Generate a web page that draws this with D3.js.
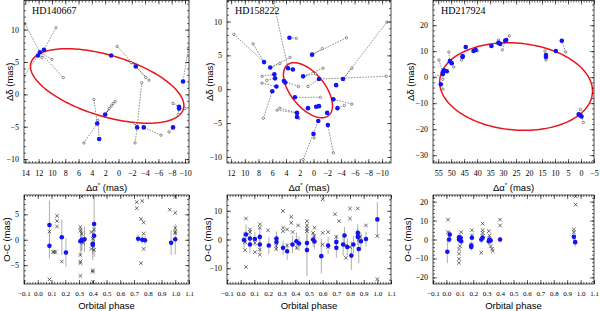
<!DOCTYPE html>
<html>
<head>
<meta charset="utf-8">
<script src="https://cdn.jsdelivr.net/npm/d3@7"></script>
<style>
body { margin: 0; background: #fff; }
</style>
</head>
<body>
<svg id="chart" width="600" height="311"></svg>
<script>

// ---------- data ----------

// orbits: centre (mas), semi-axes (mas), tilt (deg)
var hd140667_orbit = {cx: 1.7, cy: 1.3, a: 12.0, b: 4.7, theta: 17.5};
var hd158222_orbit = {cx: 0.8, cy: -0.15, a: 4.8, b: 2.5, theta: 51.5};
var hd217924_orbit = {cx: 25.0, cy: -3.6, a: 29.5, b: 16.7, theta: 5};

// fitted positions (blue)
var hd140667_dx = [12.1, 11.8, 11.2, 1.1, -2.6, -9.7, -9.1, -9.1, -8.2, -3.8, -2.8, 2.0, 3.2, 2.9];
var hd140667_dy = [6.0, 6.5, 6.9, 6.0, 4.3, 2.0, -1.9, -2.2, -5.1, -5.1, -5.1, -3.1, -4.5, -6.9];
// abscissa ends (open circles) and the blue point they hang from
var hd140667_absX = [14.05, 8.3, 9.4, 14.2, 10.0, 11.5, 0.2, -1.9, -4.6, -4.1, -10.5, -8.2, -9.0, -10.0, -3.5, -2.5, -2.5, -6.4, -7.6, 0.5, 0.8, 1.1, 1.4, 3.7, 5.2, 3.1];
var hd140667_absY = [10.9, 2.6, 10.3, 2.8, 5.4, 5.7, 7.4, 4.9, 2.2, 2.6, 7.1, -1.4, -3.1, -2.2, 1.8, -7.5, -4.5, -6.3, -5.8, -1.1, -1.4, -1.8, -2.2, -0.8, -7.5, -4.0];
var hd140667_absRef = [1, 1, 2, 0, 1, 0, 4, 4, 4, 4, 5, 6, 7, 7, 10, 10, 10, 9, 8, 11, 11, 11, 11, 12, 12, 13];

var hd158222_dx = [3.5, 0.2, 7.2, 6.3, 3.7, 3.0, 5.7, 1.5, 5.6, 4.3, 4.1, -4.3, -0.8, -3.3, 5.4, 6.0, -2.9, 2.7, -0.8, -0.4, 0.8, -3.5, 2.4, 2.4, -2.0, -0.7, -2.1, 0.0];
var hd158222_dy = [7.6, 5.1, 4.0, 3.2, 3.1, 2.9, 2.2, 1.9, 1.6, 1.2, 1.0, 1.5, 1.5, 0.6, 0.4, -0.3, -1.5, -1.2, -2.5, -2.6, -2.8, -2.8, -3.5, -4.1, -3.5, -4.7, -5.3, -6.6];
var hd158222_absX = [11.6, 8.8, 5.8, 2.5, -4.8, -1.3, -10.7, -5.6, -10.6, -5.6, -4.5, -2.9, -0.1, 1.5, 7.3, 4.9, 5.3, 2.1, 7.5, 6.8, 7.5, -1.4, -0.3, 2.2, 0.8, 3.4, 4.9, -1.0];
var hd158222_absY = [8.1, 6.7, 12.8, 7.5, 7.6, 6.0, 9.9, 3.1, 1.9, -2.2, -2.4, -9.4, -7.2, -10.4, -4.3, -2.8, -3.1, -4.3, 1.9, 1.3, 0.9, 3.1, 2.3, 0.4, 0.4, 4.7, 3.8, -1.2];
var hd158222_absRef = [2, 2, 4, 0, 1, 1, 11, 11, 12, 16, 21, 26, 27, 25, 15, 22, 22, 23, 6, 8, 14, 7, 7, 9, 12, 3, 3, 17];

var hd217924_dx = [54.0, 53.2, 52.8, 51.7, 53.2, 50.5, 49.8, 45.6, 45.6, 44.4, 41.4, 40.6, 34.5, 31.8, 31.1, 29.2, 28.8, 13.5, 13.5, 9.7, 7.4, 0.9, 0.2, -0.2];
var hd217924_dy = [-2.7, 1.9, 2.7, 2.3, 1.2, 6.2, 5.4, 7.8, 8.1, 11.6, 10.1, 10.5, 12.0, 13.2, 12.8, 14.0, 14.3, 8.5, 7.8, 10.1, 14.0, -14.3, -14.7, -15.1];
var hd217924_absX = [57.4, 54.7, 50.9, 49.0, 53.2, 53.2, 46.0, 39.9, 31.8, 30.3, 27.6, 13.9, 13.5, 5.9, 0.2, -0.9];
var hd217924_absY = [0.0, 6.6, 9.7, 3.9, -0.8, -4.6, 6.6, 10.1, 14.3, 10.5, 15.9, 10.1, 6.6, 9.7, -12.4, -17.4];
var hd217924_absRef = [4, 1, 5, 6, 2, 0, 8, 11, 14, 15, 16, 17, 18, 20, 21, 23];

// O-C residuals: normal points (blue, with error) and single measurements (x)
var hd140667_phase = [0.085, 0.085, 0.175, 0.205, 0.31, 0.32, 0.34, 0.32, 0.40, 0.41, 0.41, 0.40, 0.73, 0.76, 0.78, 0.97, 1.0];
var hd140667_oc = [2.9, -1.2, 0.5, -2.5, -0.3, 0.0, 0.1, -0.2, -1.0, 0.8, 3.1, -0.8, 0.2, 0.0, -0.1, -0.6, 0.1];
var hd140667_err = [4.8, 2.5, 3.5, 2.8, 2.8, 2.2, 2.5, 2.0, 3.0, 2.5, 6.5, 2.0, 0.8, 0.8, 0.8, 2.4, 3.0];
var hd140667_xPhase = [0.085, 0.085, 0.11, 0.12, 0.13, 0.14, 0.14, 0.14, 0.175, 0.31, 0.31, 0.31, 0.31, 0.31, 0.31, 0.32, 0.32, 0.33, 0.39, 0.39, 0.40, 0.40, 0.40, 0.40, 0.41, 0.41, 0.72, 0.72, 0.75, 0.75, 0.76, 0.77, 0.77, 0.77, 0.96, 1.0, 1.0, 1.0, 1.0, 1.0];
var hd140667_xOc = [-7.8, 1.6, -2.4, -2.4, -2.4, 4.7, 3.7, 2.6, -4.3, 2.5, 1.8, -3.0, -4.3, -4.6, -7.1, 8.5, 1.2, -0.6, 1.5, -1.8, -6.0, -6.3, -8.3, 0.2, 2.0, -2.0, 7.4, 6.2, 4.1, -4.6, 7.6, 3.4, 1.2, -1.8, 5.9, 5.3, 8.5, 2.3, 1.6, 1.3];

var hd158222_phase = [0.024, 0.039, 0.068, 0.068, 0.104, 0.14, 0.14, 0.206, 0.262, 0.262, 0.31, 0.34, 0.379, 0.408, 0.427, 0.485, 0.485, 0.53, 0.54, 0.59, 0.64, 0.70, 0.70, 0.75, 0.76, 0.78, 0.81, 0.825, 0.857, 0.857, 0.864, 0.88, 0.917, 1.0];
var hd158222_oc = [-0.2, 1.75, 0.35, -1.75, 0.2, 0.9, -1.75, -2.1, 0.35, -0.9, -2.9, -4.1, -1.75, -0.6, -1.4, -1.2, -3.7, 0.0, -0.7, -5.8, -2.1, -2.9, -0.9, -1.75, 1.4, -2.6, -5.6, -1.75, 2.3, 0.9, -3.3, -0.6, 0.2, 7.0];
var hd158222_err = [3, 3.5, 3, 3, 2.5, 3, 3, 3, 2.5, 3, 2.5, 3, 3, 3, 2.5, 3, 9, 2.5, 2.5, 6, 3, 3.5, 2.5, 4, 3, 3, 5, 3, 3, 3, 5, 3, 2.5, 6];
var hd158222_xPhase = [0.039, 0.032, 0.032, 0.039, 0.068, 0.068, 0.104, 0.104, 0.14, 0.14, 0.14, 0.14, 0.20, 0.26, 0.26, 0.31, 0.31, 0.31, 0.34, 0.34, 0.37, 0.37, 0.38, 0.42, 0.41, 0.485, 0.485, 0.485, 0.485, 0.53, 0.54, 0.54, 0.60, 0.60, 0.60, 0.64, 0.64, 0.69, 0.72, 0.70, 0.70, 0.77, 0.77, 0.80, 0.80, 0.80, 0.857, 0.864, 0.864, 0.874, 0.917, 1.0, 1.0];
var hd158222_xOc = [7.3, -0.9, -3.7, -9.6, 3.5, 2.6, -1.2, -4.4, 5.3, 4.1, -3.5, -5.3, 3.2, -2.3, -3.3, 9.9, 4.1, 2.9, 3.5, -2.1, 7.9, 5.8, 2.6, 4.9, -2.9, 6.4, 4.9, 3.7, 2.9, 2.3, 1.2, 4.1, 14.0, 2.3, -1.75, 2.6, -2.6, 8.8, 6.4, 0.9, -0.9, -2.1, -6.4, -2.6, 10.8, 7.3, 10.8, 1.75, 0.0, 0.9, 4.9, 1.2, -13.8];

var hd217924_phase = [0.007, 0.02, 0.025, 0.094, 0.094, 0.106, 0.11, 0.185, 0.19, 0.185, 0.26, 0.27, 0.32, 0.33, 0.316, 0.40, 0.95, 0.96];
var hd217924_oc = [-6.5, 0.0, 2.6, 1.2, 0.0, 0.9, -0.9, -3.9, 0.9, -3.2, 0.0, 0.9, 0.0, -0.5, -0.9, 0.0, 1.4, -1.4];
var hd217924_err = [6, 2, 2, 2, 2, 2, 2, 2, 2, 2, 2, 2, 2, 2, 2, 1.5, 2, 2.5];
var hd217924_xPhase = [0.012, 0.012, 0.094, 0.094, 0.094, 0.094, 0.11, 0.10, 0.19, 0.19, 0.19, 0.27, 0.27, 0.27, 0.27, 0.26, 0.32, 0.33, 0.34, 0.345, 0.316, 0.40, 0.40, 0.95, 0.95, 0.963, 0.963];
var hd217924_xOc = [10.5, 3.9, -5.3, -7.5, -10.2, -12.3, 3.9, -3.5, 4.9, 2.1, -2.6, 8.4, 4.9, 3.5, 1.8, -7.0, 2.1, -3.5, -4.9, -6.1, 4.4, 10.5, 7.4, 5.3, 3.9, 22.8, 18.4];

// ---------- layout ----------
var cols = [[24, 189], [227, 391], [433, 594]];
var skyTop = 0.5, skyBottom = 163, ocTop = 195, ocBottom = 284;
var blue = '#1414f0', red = '#e8141e';
var serif = 'Liberation Serif, Times New Roman, serif';
var sans = 'Liberation Sans, Arial, sans-serif';

var panels = [
  {name: 'HD140667', orbit: hd140667_orbit, dx: hd140667_dx, dy: hd140667_dy,
   absX: hd140667_absX, absY: hd140667_absY, absRef: hd140667_absRef,
   phase: hd140667_phase, oc: hd140667_oc, err: hd140667_err, xPhase: hd140667_xPhase, xOc: hd140667_xOc,
   xDom: [14.2, -10.6], yDom: [-10.6, 14.5], xStep: [2, 0.5], yStep: [5, 1],
   ocDom: [-8.7, 8.8], ocStep: [5, 1], skyLab: 9, ocLab: 6},
  {name: 'HD158222', orbit: hd158222_orbit, dx: hd158222_dx, dy: hd158222_dy,
   absX: hd158222_absX, absY: hd158222_absY, absRef: hd158222_absRef,
   phase: hd158222_phase, oc: hd158222_oc, err: hd158222_err, xPhase: hd158222_xPhase, xOc: hd158222_xOc,
   xDom: [12.6, -11.3], yDom: [-10.9, 13.1], xStep: [2, 0.5], yStep: [5, 1],
   ocDom: [-15.5, 15.5], ocStep: [10, 2], skyLab: 209, ocLab: 207},
  {name: 'HD217924', orbit: hd217924_orbit, dx: hd217924_dx, dy: hd217924_dy,
   absX: hd217924_absX, absY: hd217924_absY, absRef: hd217924_absRef,
   phase: hd217924_phase, oc: hd217924_oc, err: hd217924_err, xPhase: hd217924_xPhase, xOc: hd217924_xOc,
   xDom: [57, -5], yDom: [-33, 29.5], xStep: [5, 1], yStep: [10, 2],
   ocDom: [-23.5, 23.5], ocStep: [10, 2], skyLab: 410, ocLab: 407}
];

var svg = d3.select('#chart');

function stepTicks(dom, step) {
  var lo = Math.min(dom[0], dom[1]), hi = Math.max(dom[0], dom[1]);
  return d3.range(Math.ceil(lo / step - 1e-9) * step, hi + 1e-9, step)
    .map(function(v){ return Math.round(v * 1000) / 1000; });
}

function fmtNum(d) {
  return d < 0 ? '\u2212' + Math.abs(d) : '' + d;
}

// frame with inward ticks on all four sides, labels left and bottom
function drawFrame(g, xs, ys, xMaj, xMin, yMaj, yMin, xFmt, xSize) {
  var x0 = xs.range()[0], x1 = xs.range()[1];
  var yB = ys.range()[0], yT = ys.range()[1];

  var axes = [
    [d3.axisBottom, xs, 'translate(0,' + yB + ')', xMaj, xMin, true],
    [d3.axisTop, xs, 'translate(0,' + yT + ')', xMaj, xMin, false],
    [d3.axisLeft, ys, 'translate(' + x0 + ',0)', yMaj, yMin, true],
    [d3.axisRight, ys, 'translate(' + x1 + ',0)', yMaj, yMin, false]
  ];
  axes.forEach(function(a, i){
    var minor = g.append('g').attr('transform', a[2])
      .call(a[0](a[1]).tickValues(a[4]).tickSize(-2).tickFormat(''));
    minor.select('.domain').remove();
    var major = g.append('g').attr('transform', a[2])
      .call(a[0](a[1]).tickValues(a[3]).tickSize(-4)
        .tickPadding(i < 2 ? 7 : 5)
        .tickFormat(a[5] ? (i === 0 ? xFmt : fmtNum) : ''));
    major.select('.domain').remove();
    major.selectAll('text')
      .style('font-family', serif)
      .style('font-size', i === 0 ? xSize : '8px')
      .attr('fill', '#000');
  });
  g.selectAll('.tick line').attr('stroke', '#000').attr('stroke-width', 0.6);

  g.append('rect')
    .attr('x', x0).attr('y', yT)
    .attr('width', x1 - x0).attr('height', yB - yT)
    .attr('fill', 'none').attr('stroke', '#000').attr('stroke-width', 0.7);
}

panels.forEach(function(p, k){
  var c = cols[k];

  // ---- sky plane ----
  var xs = d3.scaleLinear().domain(p.xDom).range(c);
  var ys = d3.scaleLinear().domain(p.yDom).range([skyBottom, skyTop]);

  var clipId = 'clipSky' + k;
  svg.append('clipPath').attr('id', clipId)
    .append('rect').attr('x', c[0]).attr('y', skyTop)
    .attr('width', c[1] - c[0]).attr('height', skyBottom - skyTop);

  var g = svg.append('g');
  var inner = g.append('g').attr('clip-path', 'url(#' + clipId + ')');

  // orbit ellipse
  var o = p.orbit, th = o.theta * Math.PI / 180;
  var ts = d3.range(0, 2 * Math.PI, Math.PI / 90);
  var ell = d3.line()
    .x(function(t){ return xs(o.cx + o.a * Math.cos(t) * Math.cos(th) - o.b * Math.sin(t) * Math.sin(th)); })
    .y(function(t){ return ys(o.cy + o.a * Math.cos(t) * Math.sin(th) + o.b * Math.sin(t) * Math.cos(th)); })
    .curve(d3.curveLinearClosed);

  // abscissa segments
  inner.selectAll('line.abs')
    .data(p.absX)
    .enter()
    .append('line')
    .classed('abs', true)
    .attr('x1', function(d){ return xs(d); })
    .attr('y1', function(d, i){ return ys(p.absY[i]); })
    .attr('x2', function(d, i){ return xs(p.dx[p.absRef[i]]); })
    .attr('y2', function(d, i){ return ys(p.dy[p.absRef[i]]); })
    .attr('stroke', '#222')
    .attr('stroke-width', 0.5)
    .attr('stroke-dasharray', '1.6,1.2');

  inner.append('path')
    .attr('d', ell(ts))
    .attr('fill', 'none')
    .attr('stroke', red)
    .attr('stroke-width', 1.5);

  inner.selectAll('circle.absEnd')
    .data(p.absX)
    .enter()
    .append('circle')
    .classed('absEnd', true)
    .attr('cx', function(d){ return xs(d); })
    .attr('cy', function(d, i){ return ys(p.absY[i]); })
    .attr('r', 1.2)
    .attr('fill', '#fff')
    .attr('stroke', '#222')
    .attr('stroke-width', 0.5);

  inner.selectAll('circle.pos')
    .data(p.dx)
    .enter()
    .append('circle')
    .classed('pos', true)
    .attr('cx', function(d){ return xs(d); })
    .attr('cy', function(d, i){ return ys(p.dy[i]); })
    .attr('r', 2.3)
    .attr('fill', blue);

  drawFrame(g, xs, ys,
    stepTicks(p.xDom, p.xStep[0]), stepTicks(p.xDom, p.xStep[1]),
    stepTicks(p.yDom, p.yStep[0]), stepTicks(p.yDom, p.yStep[1]), fmtNum, '8px');

  g.append('text')
    .attr('x', c[0] + 8).attr('y', 14)
    .style('font-family', serif).style('font-size', '10px')
    .text(p.name);

  g.append('text')
    .attr('transform', 'translate(' + p.skyLab + ',' + ((skyTop + skyBottom) / 2) + ') rotate(-90)')
    .attr('text-anchor', 'middle').attr('dominant-baseline', 'central')
    .style('font-family', sans).style('font-size', '9.5px')
    .text('\u0394\u03b4 (mas)');

  var xt = g.append('text')
    .attr('x', (c[0] + c[1]) / 2).attr('y', 190.5)
    .attr('text-anchor', 'middle')
    .style('font-family', sans).style('font-size', '9.5px');
  xt.append('tspan').text('\u0394\u03b1');
  xt.append('tspan').attr('dy', -4).style('font-size', '6px').text('*');
  xt.append('tspan').attr('dy', 4).text(' (mas)');

  // ---- O-C versus phase ----
  var px = d3.scaleLinear().domain([-0.1, 1.1]).range(c);
  var py = d3.scaleLinear().domain(p.ocDom).range([ocBottom, ocTop]);

  var clipId2 = 'clipOc' + k;
  svg.append('clipPath').attr('id', clipId2)
    .append('rect').attr('x', c[0]).attr('y', ocTop)
    .attr('width', c[1] - c[0]).attr('height', ocBottom - ocTop);

  var g2 = svg.append('g');
  var in2 = g2.append('g').attr('clip-path', 'url(#' + clipId2 + ')');

  in2.selectAll('line.err')
    .data(p.phase)
    .enter()
    .append('line')
    .classed('err', true)
    .attr('x1', function(d){ return px(d); })
    .attr('x2', function(d){ return px(d); })
    .attr('y1', function(d, i){ return py(p.oc[i] - p.err[i]); })
    .attr('y2', function(d, i){ return py(p.oc[i] + p.err[i]); })
    .attr('stroke', '#9a9a9a')
    .attr('stroke-width', 0.8);

  in2.selectAll('path.cross')
    .data(p.xPhase)
    .enter()
    .append('path')
    .classed('cross', true)
    .attr('transform', function(d, i){ return 'translate(' + px(d) + ',' + py(p.xOc[i]) + ')'; })
    .attr('d', 'M-1.8,-1.8L1.8,1.8M-1.8,1.8L1.8,-1.8')
    .attr('stroke', '#111')
    .attr('stroke-width', 0.6);

  in2.selectAll('circle.np')
    .data(p.phase)
    .enter()
    .append('circle')
    .classed('np', true)
    .attr('cx', function(d){ return px(d); })
    .attr('cy', function(d, i){ return py(p.oc[i]); })
    .attr('r', 2.3)
    .attr('fill', blue);

  drawFrame(g2, px, py,
    stepTicks([-0.1, 1.1], 0.1), stepTicks([-0.1, 1.1], 0.02),
    stepTicks(p.ocDom, p.ocStep[0]), stepTicks(p.ocDom, p.ocStep[1]),
    function(d){ return (d < 0 ? '\u2212' : '') + Math.abs(d).toFixed(1); }, '7px');

  g2.append('text')
    .attr('transform', 'translate(' + p.ocLab + ',' + ((ocTop + ocBottom) / 2) + ') rotate(-90)')
    .attr('text-anchor', 'middle').attr('dominant-baseline', 'central')
    .style('font-family', sans).style('font-size', '9.5px')
    .text('O-C (mas)');

  g2.append('text')
    .attr('x', (c[0] + c[1]) / 2).attr('y', 309)
    .attr('text-anchor', 'middle')
    .style('font-family', sans).style('font-size', '9.5px')
    .text('Orbital phase');
});

</script>
</body>
</html>
